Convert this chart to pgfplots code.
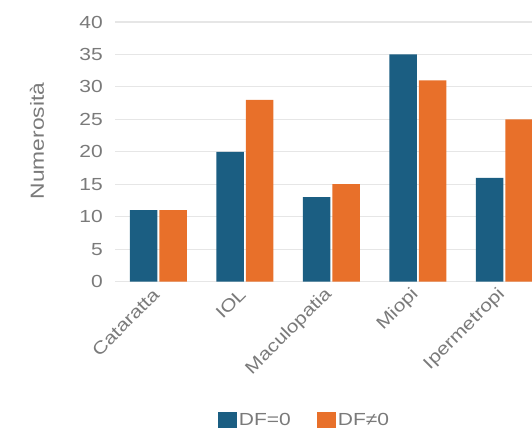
\documentclass[border=0pt]{standalone}
\usepackage{fontspec}
\setmainfont{Liberation Sans}[FakeStretch=1.2]
\usepackage{pgfplots}
\pgfplotsset{compat=1.18}
\definecolor{cblue}{HTML}{1B5E82}
\definecolor{corange}{HTML}{E8702A}
\definecolor{ctext}{HTML}{7A7A7A}
\definecolor{cgrid}{HTML}{E6E6E6}
\newcommand{\ff}{\fontsize{17.5bp}{20bp}\selectfont}
\begin{document}
\begin{tikzpicture}
\path[use as bounding box] (0,0) rectangle (532bp,430bp);
\begin{axis}[
  at={(115bp,148.4bp)}, anchor=south west,
  scale only axis, width=417bp, height=259.6bp,
  ybar=2bp, bar width=27.5bp,
  xmin=-0.5, xmax=4.3208, ymin=0, ymax=40,
  ytick={0,5,...,40},
  xtick={0,1,2,3,4},
  xticklabels={Cataratta,IOL,Maculopatia,Miopi,Ipermetropi},
  /pgf/number format/assume math mode=true,
  major tick length=0pt,
  axis line style={draw=none},
  ymajorgrids, major grid style={cgrid, line width=1.2bp},
  tick label style={font=\ff, text=ctext},
  yticklabel style={anchor=east, inner sep=0pt, xshift=-12bp},
  xticklabel style={anchor=east, inner sep=0pt, yshift=-10bp, xshift=-2bp, rotate=45},
  ylabel={Numerosità},
  ylabel style={at={(rel axis cs:-0.187,0.5416)}, anchor=center, font=\fontsize{19bp}{22bp}\selectfont, text=ctext},
  legend style={at={(rel axis cs:0.4544,-0.533)}, anchor=center, draw=none, fill=none,
    legend columns=2, font=\ff, text=ctext,
    /tikz/every even column/.append style={column sep=24bp}},
  legend image code/.code={\fill[#1] (0bp,-8bp) rectangle (19bp,8bp);},
  clip=true,
]
\addplot[fill=cblue, draw=none] coordinates {(0,11) (1,20) (2,13) (3,35) (4,16)};
\addplot[fill=corange, draw=none] coordinates {(0,11) (1,28) (2,15) (3,31) (4,25)};
\legend{DF=0, DF≠0}
\end{axis}
\end{tikzpicture}
\end{document}
